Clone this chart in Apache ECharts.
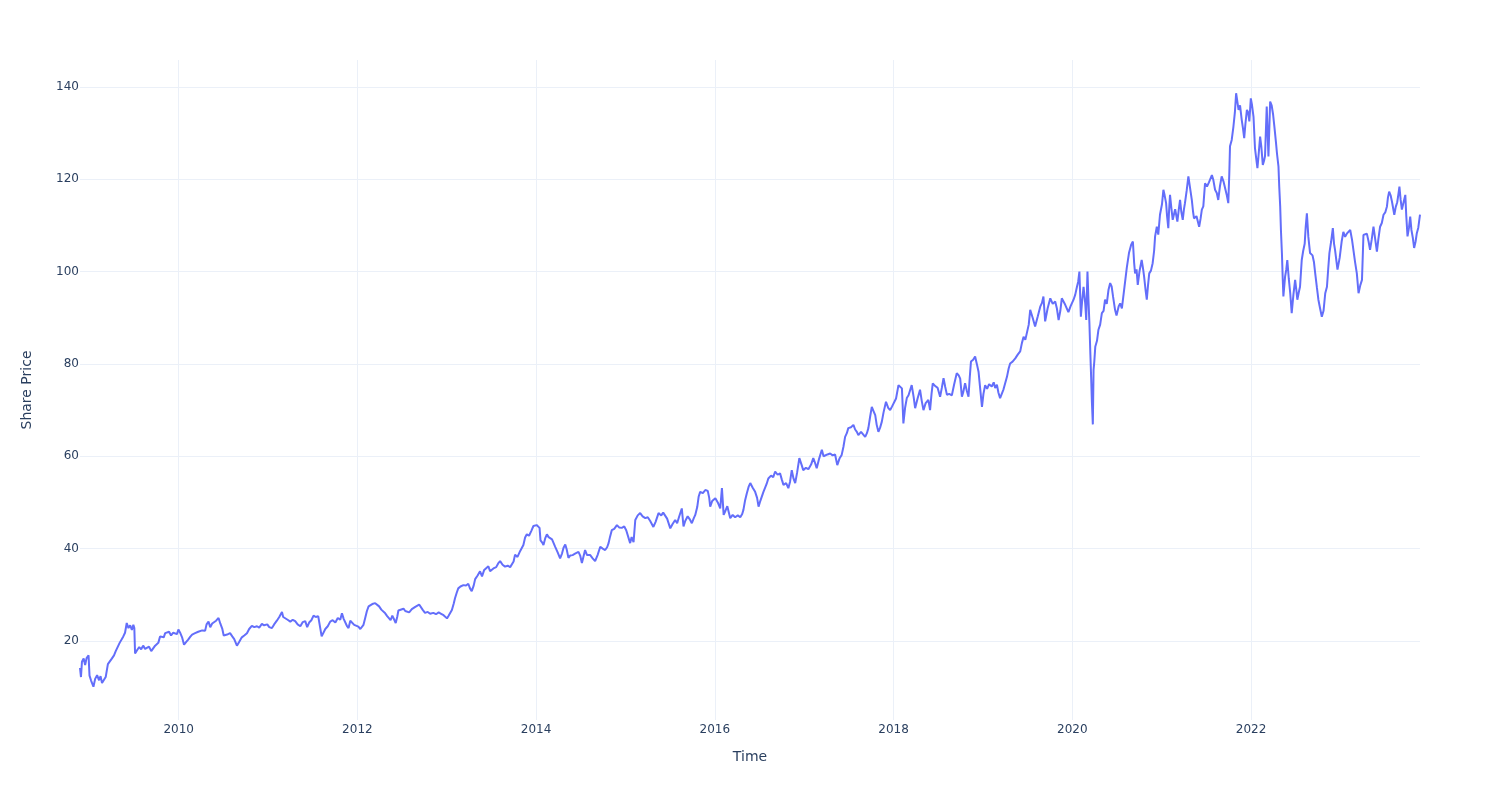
<!DOCTYPE html>
<html>
<head>
<meta charset="utf-8">
<script src="https://cdn.jsdelivr.net/npm/echarts@6/dist/echarts.min.js"></script>
<style>html,body{margin:0;padding:0;background:#fff}#chart{width:1500px;height:800px}</style>
</head>
<body>
<div id="chart"></div>
<script>
const dates = [
'2008-11-24','2008-11-28','2008-12-02','2008-12-09','2008-12-15','2008-12-21','2008-12-29',
'2009-01-02','2009-01-08','2009-01-18','2009-01-25','2009-02-02','2009-02-10','2009-02-16','2009-02-22','2009-03-01','2009-03-09','2009-03-18','2009-03-25','2009-04-03','2009-04-12','2009-04-19','2009-04-27','2009-05-05','2009-05-13','2009-05-20','2009-05-27','2009-06-03','2009-06-10','2009-06-17','2009-06-24','2009-06-30','2009-07-04','2009-07-07','2009-07-15','2009-07-24','2009-08-01','2009-08-09','2009-08-17','2009-08-25','2009-09-02','2009-09-11','2009-09-19','2009-09-27','2009-10-05','2009-10-10','2009-10-17','2009-10-24','2009-11-01','2009-11-07','2009-11-15','2009-11-23','2009-12-01','2009-12-10','2009-12-18','2009-12-25','2009-12-31',
'2010-01-07','2010-01-15','2010-01-23','2010-02-01','2010-02-09','2010-02-17','2010-02-25','2010-03-09','2010-03-22','2010-03-30','2010-04-07','2010-04-19','2010-04-25','2010-05-03','2010-05-10','2010-05-18','2010-05-26','2010-06-03','2010-06-13','2010-06-20','2010-06-28','2010-07-04','2010-07-10','2010-07-18','2010-07-30','2010-08-08','2010-08-16','2010-08-27','2010-09-05','2010-09-16','2010-09-26','2010-10-07','2010-10-16','2010-10-27','2010-11-06','2010-11-17','2010-11-26','2010-12-07','2010-12-16','2010-12-29',
'2011-01-06','2011-01-17','2011-01-26','2011-02-06','2011-02-16','2011-02-27','2011-03-04','2011-03-12','2011-03-22','2011-04-02','2011-04-12','2011-04-22','2011-05-02','2011-05-13','2011-05-23','2011-06-02','2011-06-10','2011-06-18','2011-06-27','2011-07-06','2011-07-15','2011-07-25','2011-08-02','2011-08-08','2011-08-15','2011-08-23','2011-09-02','2011-09-12','2011-09-22','2011-10-03','2011-10-13','2011-10-23','2011-10-30','2011-11-06','2011-11-12','2011-11-19','2011-11-26','2011-12-03','2011-12-11','2011-12-19','2011-12-27',
'2012-01-05','2012-01-13','2012-01-19','2012-01-26','2012-02-02','2012-02-09','2012-02-16','2012-02-23','2012-03-02','2012-03-14','2012-03-22','2012-03-30','2012-04-08','2012-04-16','2012-04-24','2012-05-02','2012-05-10','2012-05-16','2012-05-23','2012-05-31','2012-06-06','2012-06-12','2012-06-17','2012-06-24','2012-07-08','2012-07-15','2012-07-23','2012-07-31','2012-08-11','2012-08-18','2012-08-25','2012-09-02','2012-09-10','2012-09-16','2012-09-24','2012-10-04','2012-10-15','2012-10-25','2012-11-07','2012-11-18','2012-11-29','2012-12-09','2012-12-19',
'2013-01-02','2013-01-08','2013-01-15','2013-01-22','2013-01-29','2013-02-04','2013-02-11','2013-02-17','2013-02-26','2013-03-10','2013-03-21','2013-03-30','2013-04-06','2013-04-13','2013-04-21','2013-04-27','2013-05-07','2013-05-17','2013-05-25','2013-06-03','2013-06-11','2013-06-20','2013-06-27','2013-07-04','2013-07-13','2013-07-22','2013-07-30','2013-08-07','2013-08-17','2013-08-27','2013-09-07','2013-09-17','2013-09-24','2013-10-01','2013-10-07','2013-10-17','2013-10-28','2013-11-04','2013-11-10','2013-11-17','2013-11-24','2013-12-03','2013-12-12','2013-12-21','2013-12-28',
'2014-01-03','2014-01-10','2014-01-15','2014-01-19','2014-01-26','2014-01-31','2014-02-07','2014-02-14','2014-02-21','2014-02-27','2014-03-07','2014-03-20','2014-03-30','2014-04-09','2014-04-17','2014-04-23','2014-04-30','2014-05-06','2014-05-13','2014-05-20','2014-05-30','2014-06-09','2014-06-23','2014-06-30','2014-07-07','2014-07-13','2014-07-20','2014-07-28','2014-08-10','2014-08-20','2014-08-30','2014-09-09','2014-09-20','2014-09-30','2014-10-10','2014-10-18','2014-10-24','2014-10-30','2014-11-06','2014-11-16','2014-11-27','2014-12-06','2014-12-17','2014-12-27',
'2015-01-04','2015-01-12','2015-01-20','2015-01-26','2015-02-03','2015-02-10','2015-02-20','2015-03-02','2015-03-12','2015-03-23','2015-04-02','2015-04-12','2015-04-25','2015-05-04','2015-05-16','2015-05-27','2015-06-04','2015-06-12','2015-06-20','2015-07-03','2015-07-13','2015-07-23','2015-07-31','2015-08-08','2015-08-19','2015-08-26','2015-09-02','2015-09-12','2015-09-20','2015-09-29','2015-10-07','2015-10-13','2015-10-21','2015-10-27','2015-11-02','2015-11-13','2015-11-23','2015-12-03','2015-12-09','2015-12-13','2015-12-21',
'2016-01-03','2016-01-13','2016-01-23','2016-01-30','2016-02-06','2016-02-12','2016-02-21','2016-03-04','2016-03-14','2016-03-24','2016-04-04','2016-04-14','2016-04-22','2016-04-27','2016-05-04','2016-05-11','2016-05-19','2016-05-25','2016-06-04','2016-06-14','2016-06-22','2016-06-28','2016-07-05','2016-07-18','2016-07-25','2016-07-31','2016-08-07','2016-08-18','2016-08-27','2016-09-04','2016-09-14','2016-09-24','2016-10-01','2016-10-08','2016-10-19','2016-10-28','2016-11-04','2016-11-11','2016-11-18','2016-11-25','2016-12-03','2016-12-12','2016-12-21','2016-12-28',
'2017-01-08','2017-01-18','2017-01-29','2017-02-07','2017-02-14','2017-02-21','2017-03-03','2017-03-14','2017-03-21','2017-03-27','2017-04-06','2017-04-17','2017-04-27','2017-05-07','2017-05-16','2017-05-25','2017-06-03','2017-06-10','2017-06-17','2017-06-24','2017-06-30','2017-07-11','2017-07-21','2017-07-28','2017-08-04','2017-08-10','2017-08-21','2017-08-29','2017-09-07','2017-09-14','2017-09-20','2017-09-27','2017-10-04','2017-10-11','2017-10-18','2017-10-24','2017-10-31','2017-11-07','2017-11-14','2017-11-21','2017-12-01','2017-12-10','2017-12-18','2017-12-26',
'2018-01-03','2018-01-11','2018-01-21','2018-01-28','2018-02-04','2018-02-07','2018-02-10','2018-02-17','2018-02-24','2018-03-03','2018-03-10','2018-03-16','2018-03-24','2018-03-30','2018-04-09','2018-04-19','2018-04-26','2018-05-03','2018-05-12','2018-05-23','2018-05-30','2018-06-05','2018-06-10','2018-06-20','2018-06-30','2018-07-10','2018-07-17','2018-07-24','2018-07-31','2018-08-07','2018-08-16','2018-08-27','2018-09-05','2018-09-16','2018-09-24','2018-09-30','2018-10-07','2018-10-13','2018-10-20','2018-10-27','2018-11-03','2018-11-08','2018-11-13','2018-11-22','2018-11-30','2018-12-07','2018-12-14','2018-12-21','2018-12-28',
'2019-01-03','2019-01-10','2019-01-18','2019-01-26','2019-02-06','2019-02-14','2019-02-20','2019-02-27','2019-03-05','2019-03-12','2019-03-26','2019-04-09','2019-04-16','2019-04-22','2019-05-02','2019-05-13','2019-05-23','2019-06-02','2019-06-09','2019-06-16','2019-06-23','2019-06-29','2019-07-07','2019-07-13','2019-07-23','2019-08-02','2019-08-13','2019-08-23','2019-08-30','2019-09-05','2019-09-12','2019-09-22','2019-10-03','2019-10-13','2019-10-23','2019-10-30','2019-11-06','2019-11-13','2019-11-19','2019-11-26','2019-12-03','2019-12-10','2019-12-16','2019-12-25',
'2020-01-06','2020-01-13','2020-01-20','2020-01-25','2020-01-30','2020-02-05','2020-02-10','2020-02-16','2020-02-23','2020-02-27','2020-03-03','2020-03-07','2020-03-11','2020-03-15','2020-03-18','2020-03-21','2020-03-25','2020-03-28','2020-03-31','2020-04-04','2020-04-11','2020-04-17','2020-04-24','2020-05-01','2020-05-08','2020-05-14','2020-05-21','2020-05-28','2020-06-04','2020-06-10','2020-06-16','2020-06-24','2020-06-30','2020-07-09','2020-07-15','2020-07-22','2020-07-31','2020-08-11','2020-08-20','2020-08-29','2020-09-05','2020-09-10','2020-09-14','2020-09-20','2020-09-25','2020-10-02','2020-10-11','2020-10-17','2020-10-21','2020-10-27','2020-11-01','2020-11-06','2020-11-11','2020-11-18','2020-11-25','2020-12-01','2020-12-05','2020-12-12','2020-12-18','2020-12-25',
'2021-01-02','2021-01-08','2021-01-13','2021-01-19','2021-01-23','2021-01-28','2021-01-31','2021-02-04','2021-02-09','2021-02-15','2021-02-25','2021-03-06','2021-03-12','2021-03-17','2021-03-22','2021-03-28','2021-04-02','2021-04-06','2021-04-13','2021-04-20','2021-04-27','2021-05-04','2021-05-09','2021-05-13','2021-05-23','2021-06-03','2021-06-09','2021-06-14','2021-06-20','2021-06-27','2021-07-05','2021-07-13','2021-07-25','2021-07-31','2021-08-07','2021-08-14','2021-08-20','2021-08-27','2021-09-03','2021-09-11','2021-09-17','2021-09-24','2021-09-30','2021-10-04','2021-10-07','2021-10-14','2021-10-21','2021-10-27','2021-11-01','2021-11-05','2021-11-11','2021-11-17','2021-11-24','2021-11-29','2021-12-04','2021-12-09','2021-12-15','2021-12-20','2021-12-25','2021-12-31',
'2022-01-05','2022-01-11','2022-01-17','2022-01-22','2022-01-27','2022-02-02','2022-02-07','2022-02-12','2022-02-18','2022-02-23','2022-02-27','2022-03-06','2022-03-13','2022-03-20','2022-03-26','2022-04-01','2022-04-07','2022-04-13','2022-04-17','2022-04-23','2022-04-26','2022-04-30','2022-05-03','2022-05-07','2022-05-10','2022-05-13','2022-05-20','2022-05-25','2022-05-29','2022-06-04','2022-06-10','2022-06-16','2022-06-23','2022-06-30','2022-07-05','2022-07-09','2022-07-15','2022-07-20','2022-07-27','2022-08-02','2022-08-08','2022-08-12','2022-08-17','2022-08-23','2022-08-30','2022-09-09','2022-09-15','2022-09-20','2022-09-27','2022-10-03','2022-10-10','2022-10-17','2022-10-24','2022-10-31','2022-11-07','2022-11-12','2022-11-17','2022-11-24','2022-12-01','2022-12-06','2022-12-10','2022-12-20','2022-12-29',
'2023-01-06','2023-01-13','2023-01-20','2023-01-27','2023-02-03','2023-02-10','2023-02-17','2023-02-23','2023-03-02','2023-03-09','2023-03-16','2023-03-23','2023-03-30','2023-04-02','2023-04-05','2023-04-12','2023-04-19','2023-04-26','2023-05-02','2023-05-09','2023-05-16','2023-05-23','2023-05-30','2023-06-05','2023-06-12','2023-06-19','2023-06-26','2023-07-03','2023-07-10','2023-07-14','2023-07-19','2023-07-25','2023-07-31','2023-08-09','2023-08-15','2023-08-21','2023-08-26','2023-08-30','2023-09-04','2023-09-09','2023-09-16','2023-09-23','2023-09-27','2023-10-02','2023-10-08','2023-10-13','2023-10-18','2023-10-24','2023-10-29','2023-11-04','2023-11-09','2023-11-15','2023-11-22'
];

// Share prices on those dates (same order)
const prices = [
14.2,12.2,15.5,16.2,14.8,16.3,16.9,
12.5,11.5,10.1,11.8,12.6,11.5,12.4,10.9,10.6,12.2,15.0,14.6,16.2,16.9,17.8,17.5,19.6,19.8,21.0,21.8,23.9,22.8,23.4,22.4,23.5,22.8,17.3,18.0,18.7,18.2,19.0,18.3,18.0,18.8,17.8,18.4,19.0,18.8,19.6,21.0,21.3,20.8,21.7,21.4,22.0,21.2,21.8,22.1,21.5,22.5,
21.8,20.8,19.2,19.8,20.3,20.9,21.4,21.7,22.0,21.8,22.3,22.2,23.6,24.2,23.0,23.8,23.4,24.4,25.0,23.8,22.7,21.2,20.9,21.4,21.7,21.0,20.4,19.0,19.8,20.8,21.2,21.7,22.6,23.3,23.0,23.2,22.9,23.7,23.4,23.6,
23.0,22.8,23.6,24.4,25.2,26.3,25.2,24.8,24.6,24.2,24.6,24.3,23.6,23.2,24.1,24.3,23.0,24.0,24.5,25.5,25.2,25.4,22.9,21.0,21.2,22.6,23.2,24.2,24.5,24.0,25.0,24.6,26.0,24.8,24.6,23.3,22.8,24.4,24.0,23.5,23.9,
23.1,22.6,22.9,23.5,25.0,26.5,27.5,27.6,28.0,28.2,27.9,27.5,26.8,26.6,26.0,25.4,25.3,24.5,25.5,24.6,23.9,25.2,26.6,26.8,27.0,26.5,26.9,26.2,26.9,27.0,27.4,27.3,27.9,27.6,26.8,26.1,26.3,25.9,26.1,25.8,26.2,25.9,25.6,
24.9,25.4,25.8,26.7,28.0,29.3,30.5,31.4,31.8,32.1,32.0,32.4,31.4,30.8,32.0,33.4,34.2,35.1,34.0,35.4,35.0,36.2,35.1,35.5,35.8,36.0,36.8,37.3,36.5,36.1,36.3,36.0,35.8,37.2,38.7,38.2,39.5,39.2,40.8,42.4,43.1,42.8,43.8,44.9,44.6,
45.1,45.4,44.5,41.8,41.3,40.8,42.2,43.1,42.5,42.9,42.0,40.4,39.2,37.9,39.0,40.2,40.9,39.8,38.0,38.5,38.6,38.9,39.3,38.5,36.9,38.2,39.7,38.6,38.6,37.9,37.3,38.6,40.4,40.0,39.7,40.3,41.2,42.6,44.0,44.3,45.1,44.6,44.5,44.8,
44.0,43.8,41.2,42.5,41.4,46.2,47.2,47.7,47.0,46.6,46.8,46.0,44.7,45.8,47.7,47.2,47.8,48.0,46.5,44.4,45.4,46.2,45.5,46.9,48.7,44.8,46.0,47.0,46.4,45.5,46.6,47.3,49.0,51.3,52.3,52.0,52.7,52.5,51.0,49.1,50.3,
50.9,50.0,48.7,53.1,47.3,48.0,49.2,46.6,47.3,46.8,47.2,46.8,47.5,48.4,50.5,52.0,53.5,54.2,53.2,52.3,51.0,49.1,50.3,52.3,52.0,54.0,55.2,55.8,55.5,56.7,56.0,56.3,55.0,53.8,54.2,53.1,54.5,57.0,55.2,54.2,56.5,59.6,58.2,57.0,
57.5,57.2,58.2,59.6,58.6,57.4,59.5,61.4,60.0,59.8,60.4,60.6,60.2,60.4,58.1,59.5,60.3,62.0,64.2,65.0,66.1,66.3,66.8,65.8,65.3,64.6,65.3,65.1,64.2,65.0,66.1,68.5,70.7,69.8,68.9,66.8,65.3,66.2,67.5,69.5,71.8,70.5,70.0,70.8,
70.4,72.5,75.4,75.0,74.7,71.0,67.1,70.5,72.6,73.2,72.9,75.4,72.8,70.4,72.5,74.4,72.0,70.0,71.5,72.2,70.0,73.5,75.8,75.2,74.8,72.9,74.8,76.9,75.0,73.3,73.5,73.2,75.5,78.0,77.5,76.8,72.9,74.0,75.8,74.2,72.9,77.0,80.5,80.9,81.6,80.0,78.3,74.5,70.7,
73.5,75.4,74.6,75.6,75.1,76.0,74.8,75.5,73.8,72.6,74.5,77.2,79.0,80.1,80.5,81.2,82.0,82.7,84.5,85.9,85.2,85.0,88.5,91.7,90.0,88.1,90.3,92.4,93.2,94.6,89.2,92.0,94.2,93.0,93.5,92.0,89.5,91.5,94.2,94.0,92.8,93.0,91.2,92.5,
93.9,95.0,96.7,97.8,100.0,90.2,93.5,96.7,93.0,89.5,100.0,94.0,88.8,82.0,77.2,72.0,66.9,78.7,80.5,83.7,85.0,87.4,88.5,91.0,91.5,93.9,93.0,96.0,97.5,96.8,94.5,91.7,90.5,92.5,93.1,92.0,96.0,100.8,104.0,105.8,106.5,102.0,99.6,100.5,97.1,100.0,102.5,100.5,98.9,96.0,93.9,97.0,99.6,100.2,101.8,104.5,107.6,109.7,108.0,112.3,
114.5,117.7,116.5,114.8,112.0,109.4,113.0,116.6,114.0,111.2,113.5,110.8,113.5,115.5,113.0,111.2,113.5,114.8,117.5,120.6,121.0,115.5,113.0,111.5,112.0,109.7,111.5,113.4,114.1,119.1,118.4,119.3,120.9,119.8,117.7,117.0,115.5,118.5,120.6,119.4,119.0,116.5,114.8,121.0,127.1,128.5,131.4,134.5,138.6,138.8,135.0,136.0,132.8,131.0,128.9,132.0,135.0,134.5,132.5,137.5,
136.0,133.5,126.7,124.5,122.4,126.0,129.2,127.0,123.1,124.0,125.0,135.7,124.9,136.8,136.0,134.0,131.0,127.8,125.5,122.7,118.5,114.1,109.0,104.0,99.0,94.6,98.9,100.5,102.5,98.5,95.3,91.0,95.0,98.2,96.0,93.9,95.5,96.7,102.5,104.5,106.0,109.5,112.6,107.5,104.0,103.5,102.0,99.6,96.5,93.9,92.0,90.2,91.5,95.3,96.7,100.5,104.0,106.5,109.4,106.0,104.7,100.4,103.0,
106.5,108.6,107.5,108.2,107.8,109.0,107.0,104.7,102.0,99.6,95.3,97.0,98.2,103.0,107.9,107.5,108.2,106.5,104.7,107.0,109.7,107.0,104.3,107.0,109.7,110.5,112.3,112.8,114.1,116.0,117.3,116.5,115.0,112.3,114.0,115.0,116.8,118.4,115.5,113.4,115.0,116.6,112.0,107.6,109.5,111.9,109.0,107.2,105.1,106.5,108.3,109.5,112.3
];

const yRange = [2.9, 145.8];

function toYear(s) {
  const [Y, M, D] = s.split('-').map(Number);
  const a = Date.UTC(Y, 0, 1), b = Date.UTC(Y + 1, 0, 1);
  return Y + (Date.UTC(Y, M - 1, D) - a) / (b - a);
}
const n = Math.min(dates.length, prices.length);
const points = [];
for (let i = 0; i < n; i++) points.push([toYear(dates[i]), prices[i]]);

const FONT = 'DejaVu Sans';
const TXT = '#2a3f5f';
const GRID = '#EBF0F8';

const chart = echarts.init(document.getElementById('chart'), null, {renderer: 'canvas'});
chart.setOption({
  animation: false,
  backgroundColor: '#ffffff',
  grid: {left: 80, right: 80, top: 60, bottom: 80, containLabel: false},
  xAxis: {
    type: 'value',
    min: points[0][0],
    max: points[points.length - 1][0],
    splitNumber: 7,
    name: 'Time',
    nameLocation: 'middle',
    nameGap: 30,
    nameTextStyle: {color: TXT, fontFamily: FONT, fontSize: 14},
    axisLine: {show: false},
    axisTick: {show: false},
    axisLabel: {
      color: TXT, fontFamily: FONT, fontSize: 12, margin: 4,
      showMinLabel: false, showMaxLabel: false,
      formatter: v => String(Math.round(v))
    },
    splitLine: {show: true, showMinLine: false, showMaxLine: false, lineStyle: {color: GRID, width: 1}}
  },
  yAxis: {
    type: 'value',
    min: yRange[0],
    max: yRange[1],
    splitNumber: 7,
    name: 'Share Price',
    nameLocation: 'middle',
    nameGap: 46,
    nameRotate: 90,
    nameTextStyle: {color: TXT, fontFamily: FONT, fontSize: 14},
    axisLine: {show: false},
    axisTick: {show: false},
    axisLabel: {
      color: TXT, fontFamily: FONT, fontSize: 12, margin: 1,
      showMinLabel: false, showMaxLabel: false,
      formatter: v => String(Math.round(v))
    },
    splitLine: {show: true, showMinLine: false, showMaxLine: false, lineStyle: {color: GRID, width: 1}}
  },
  series: [{
    type: 'line',
    data: points,
    showSymbol: false,
    symbol: 'none',
    lineStyle: {color: '#636efa', width: 2},
    itemStyle: {color: '#636efa'}
  }]
});
</script>
</body>
</html>
